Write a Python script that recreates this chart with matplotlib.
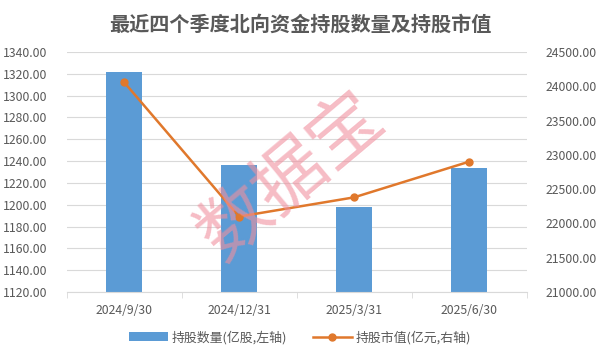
import numpy as np
import matplotlib
matplotlib.use("Agg")
import matplotlib.pyplot as plt
from matplotlib.ticker import FormatStrFormatter, FixedLocator

plt.rcParams['font.family'] = ['Noto Sans CJK SC', 'DejaVu Sans']

# data
dates = ["2024/9/30", "2024/12/31", "2025/3/31", "2025/6/30"]
shares = [1322, 1236, 1198, 1234]          # 亿股, left axis
market_value = [24060, 22100, 22380, 22900]  # 亿元, right axis

title = "最近四个季度北向资金持股数量及持股市值"
bar_label = "持股数量(亿股,左轴)"
line_label = "持股市值(亿元,右轴)"

grey = "#595959"
grid_c = "#d9d9d9"

fig = plt.figure(figsize=(6, 3.55), dpi=100)
ax = fig.add_axes([0.111, 0.1775, 0.7665, 0.676])
x = np.arange(len(dates))

b = ax.bar(x, shares, width=0.31, color="#5B9BD5", zorder=2, label=bar_label)
ax.set_ylim(1120, 1340)
ax.set_yticks(np.arange(1120, 1341, 20))
ax.yaxis.set_major_formatter(FormatStrFormatter("%.2f"))
ax.set_xlim(-0.5, len(dates) - 0.5)
ax.set_xticks(x)
ax.set_xticklabels(dates)
ax.xaxis.set_minor_locator(FixedLocator(np.arange(-0.5, len(dates), 1)))
ax.tick_params(axis="x", which="major", length=0, colors=grey, labelsize=8.8, pad=9)
ax.tick_params(axis="x", which="minor", length=4, color=grid_c)
ax.tick_params(axis="y", length=0, colors=grey, labelsize=8.8, pad=14)
ax.grid(axis="y", color=grid_c, lw=0.8, zorder=0)
for s in ["top", "left", "right"]:
    ax.spines[s].set_visible(False)
ax.spines["bottom"].set_color(grid_c)

ax2 = ax.twinx()
l, = ax2.plot(x, market_value, color="#E0782C", lw=1.8, marker="o", ms=5,
              zorder=3, label=line_label)
ax2.set_ylim(21000, 24500)
ax2.set_yticks(np.arange(21000, 24501, 500))
ax2.yaxis.set_major_formatter(FormatStrFormatter("%.2f"))
ax2.tick_params(axis="y", length=0, colors=grey, labelsize=8.8, pad=14)
for s in ax2.spines.values():
    s.set_visible(False)

fig.text(0.5, 0.932, title, ha="center", va="center", fontsize=14.5,
         color=grey, fontweight="bold")

# watermark
fig.text(0.485, 0.5, "数据宝", ha="center", va="center", fontsize=52,
         color="#F0909E", alpha=0.6, rotation=40, zorder=10)

fig.legend([b, l], [bar_label, line_label], loc="center", ncol=2,
           bbox_to_anchor=(0.5, 0.05), frameon=False, fontsize=9.3,
           labelcolor=grey, handlelength=3.0, handletextpad=0.3, columnspacing=2.0)

fig.savefig("out.png", dpi=100)
